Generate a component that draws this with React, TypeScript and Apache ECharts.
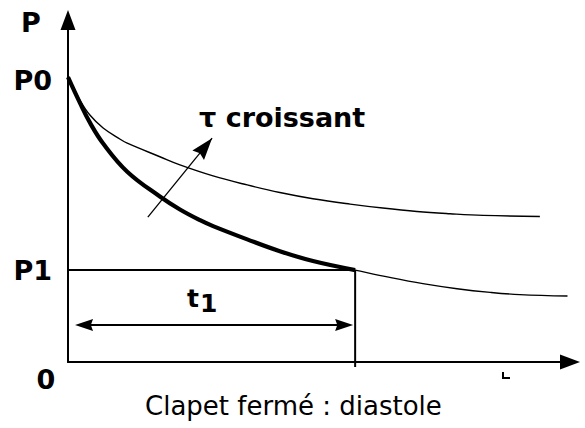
import React, { useEffect, useRef } from "react";
import * as echarts from "echarts";

// Values (t in arbitrary time units, p in % of P0)
const P0 = 100;
const P1 = 32.6;
const T1 = 5.72;
const T_MAX = 10;
const P_MAX = 121.3;

const tLower = [0, 0.24, 0.44, 0.7, 1.18, 1.83, 2.23, 2.63, 2.89, 3.57, 4.22, 4.88, 5.72, 6.41, 7.07, 7.75, 8.41, 9.0, 9.95];
const pLower = [101, 91.8, 84.8, 77.5, 67.5, 58.7, 54.1, 50.3, 48.2, 43.5, 39.3, 35.8, 32.6, 30.0, 27.8, 26.0, 24.7, 23.9, 23.4];
const tUpper = [0, 0.24, 0.44, 0.7, 1.04, 1.18, 1.83, 2.23, 2.89, 3.57, 4.22, 4.88, 5.62, 6.27, 6.95, 7.61, 8.27, 9.4];
const pUpper = [101, 92.8, 87.5, 83.0, 79.0, 77.6, 72.8, 69.9, 66.0, 62.8, 60.1, 57.9, 56.0, 54.6, 53.4, 52.6, 52.0, 51.6];

const yTickValues = [P0, P1];
const yTickLabels = ["P0", "P1"];

// annotation anchors (data coords)
const tauFrom = [1.59, 51.4];
const tauTo = [2.87, 79.4];
const t1ArrowP = 13.1;
const t1ArrowStart = 0.14;
const t1ArrowEnd = 5.68;

const FONT = "DejaVu Sans";

function head(tip: number[], from: number[], len: number, w: number, notch = 0.88) {
  const dx = tip[0] - from[0];
  const dy = tip[1] - from[1];
  const L = Math.hypot(dx, dy) || 1;
  const ux = dx / L, uy = dy / L;
  const nx = -uy, ny = ux;
  const bx = tip[0] - ux * len, by = tip[1] - uy * len;
  const mx = tip[0] - ux * len * notch, my = tip[1] - uy * len * notch;
  return [tip, [bx + (nx * w) / 2, by + (ny * w) / 2], [mx, my], [bx - (nx * w) / 2, by - (ny * w) / 2]];
}

export default function App() {
  const ref = useRef<HTMLDivElement>(null);
  useEffect(() => {
    if (!ref.current) return;
    const chart = echarts.init(ref.current, null, { renderer: "svg" });
    const lower = tLower.map((t, i) => [t, pLower[i]]);
    const upper = tUpper.map((t, i) => [t, pUpper[i]]);
    const thick = lower.filter((d) => d[0] <= T1 + 1e-9);
    const axisLine = {
      show: true,
      symbol: ["none", "triangle"],
      symbolSize: [15, 20],
      lineStyle: { color: "#000", width: 2 },
    };
    chart.setOption({
      animation: false,
      grid: { left: 68, right: 15, top: 20, bottom: 66 },
      xAxis: {
        type: "value",
        min: 0,
        max: T_MAX,
        axisLine,
        axisTick: { show: false },
        axisLabel: { show: false },
        splitLine: { show: false },
      },
      yAxis: {
        type: "value",
        min: 0,
        max: P_MAX,
        axisLine,
        axisTick: { show: false },
        splitLine: { show: false },
        axisLabel: {
          customValues: yTickValues,
          margin: 16,
          color: "#000",
          fontFamily: FONT,
          fontWeight: "bold",
          fontSize: 27,
          formatter: (v: number) => {
            const i = yTickValues.findIndex((x) => Math.abs(x - v) < 1e-6);
            return i >= 0 ? yTickLabels[i] : "";
          },
        },
      },
      series: [
        { type: "line", data: upper, symbol: "none", smooth: 0.4, lineStyle: { color: "#000", width: 1.4 } },
        { type: "line", data: lower, symbol: "none", smooth: 0.4, lineStyle: { color: "#000", width: 1.4 } },
        { type: "line", data: thick, symbol: "none", smooth: 0.4, lineStyle: { color: "#000", width: 4.2 } },
      ],
    });
    const px = (t: number, p: number) => chart.convertToPixel({ gridIndex: 0 }, [t, p]) as number[];
    const o = px(0, 0);
    const p1L = px(0, P1);
    const p1R = px(T1, P1);
    const vB = px(T1, 0);
    const aL = px(t1ArrowStart, t1ArrowP);
    const aR = px(t1ArrowEnd, t1ArrowP);
    const tf = px(tauFrom[0], tauFrom[1]);
    const tt = px(tauTo[0], tauTo[1]);
    const black = { fill: "#000" };
    chart.setOption({
      graphic: [
        { type: "line", shape: { x1: p1L[0], y1: p1L[1], x2: p1R[0], y2: p1R[1] }, style: { stroke: "#000", lineWidth: 2 } },
        { type: "line", shape: { x1: p1R[0], y1: p1R[1], x2: vB[0], y2: vB[1] + 5 }, style: { stroke: "#000", lineWidth: 2 } },
        { type: "line", shape: { x1: aL[0] + 6, y1: aL[1], x2: aR[0] - 6, y2: aR[1] }, style: { stroke: "#000", lineWidth: 2 } },
        { type: "polygon", shape: { points: head(aL, aR, 18, 12) }, style: black },
        { type: "polygon", shape: { points: head(aR, aL, 18, 12) }, style: black },
        { type: "line", shape: { x1: tf[0], y1: tf[1], x2: tt[0], y2: tt[1] }, style: { stroke: "#000", lineWidth: 1.3 } },
        { type: "polygon", shape: { points: head(tt, tf, 22, 15) }, style: black },
        { type: "text", x: o[0] - 22, y: o[1] + 17, style: { text: "0", fill: "#000", font: `bold 27px '${FONT}'`, align: "center", verticalAlign: "middle" } },
        { type: "text", x: 31, y: 22, style: { text: "P", fill: "#000", font: `bold 27px '${FONT}'`, align: "center", verticalAlign: "middle" } },
        { type: "text", x: 199, y: 117, style: { text: "τ croissant", fill: "#000", font: `bold 27px '${FONT}'`, align: "left", verticalAlign: "middle" } },
        { type: "text", x: 187, y: 298, style: { text: "t", fill: "#000", font: `bold 25px '${FONT}'`, align: "left", verticalAlign: "middle" } },
        { type: "text", x: 200, y: 303, style: { text: "1", fill: "#000", font: `bold 25px '${FONT}'`, align: "left", verticalAlign: "middle" } },
        { type: "text", x: 145, y: 406, style: { text: "Clapet fermé : diastole", fill: "#000", font: `26px '${FONT}'`, align: "left", verticalAlign: "middle" } },
        { type: "polyline", shape: { points: [[503, 372], [503, 378], [510, 378]] }, style: { stroke: "#000", lineWidth: 2, fill: "none" } },
      ],
    });
    return () => chart.dispose();
  }, []);
  return <div ref={ref} style={{ position: "fixed", left: 0, top: 0, width: 585, height: 428, background: "#fff" }} />;
}
